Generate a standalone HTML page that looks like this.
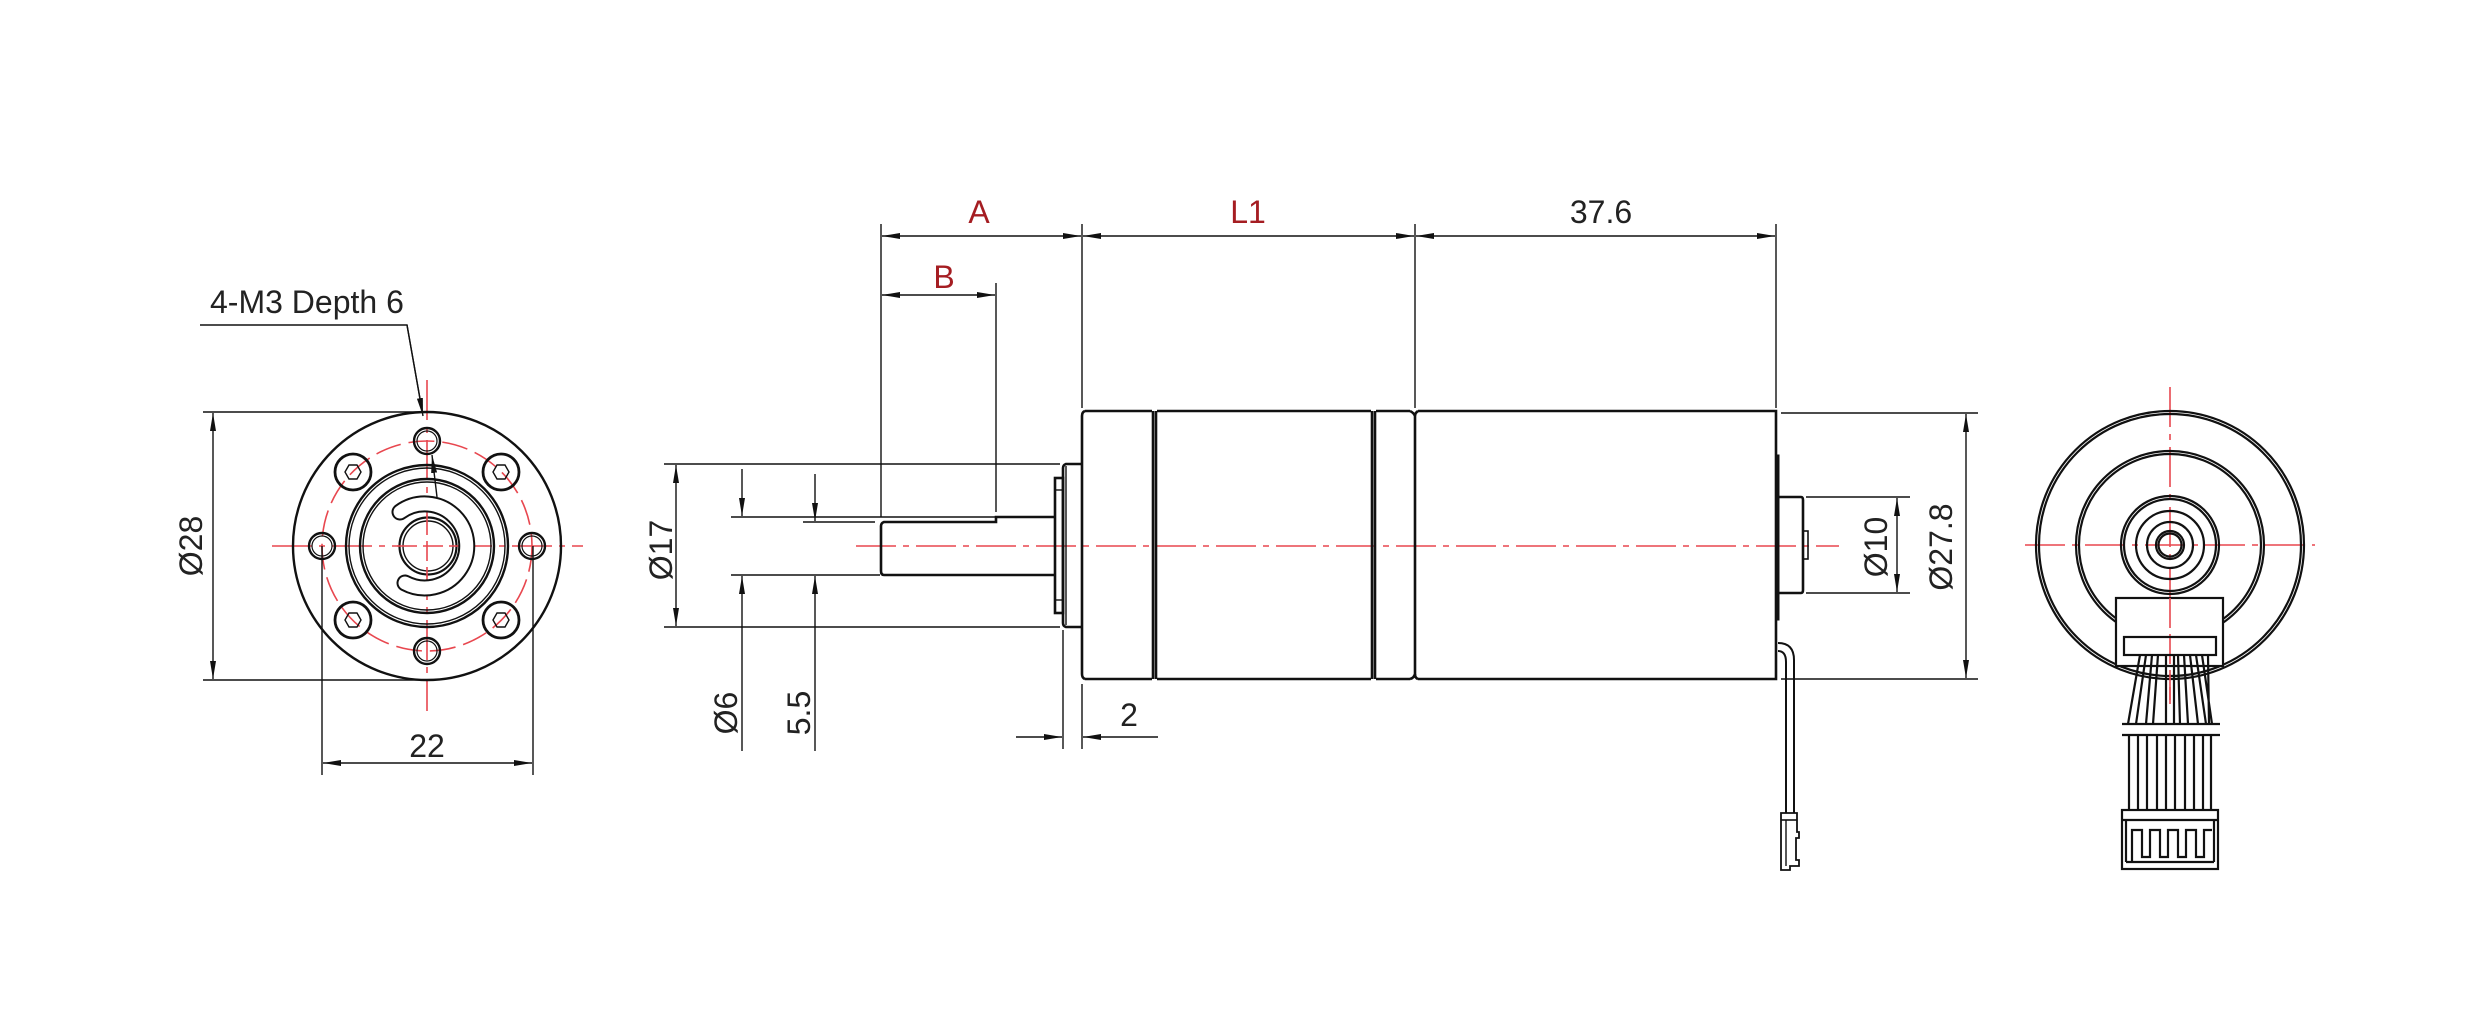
<!DOCTYPE html>
<html><head><meta charset="utf-8"><style>
html,body{margin:0;padding:0;background:#fff;}
svg{display:block;}
text{font-family:"Liberation Sans",sans-serif;}
</style></head><body>
<svg width="2481" height="1015" viewBox="0 0 2481 1015" xmlns="http://www.w3.org/2000/svg">
<defs>
<marker id="ar" viewBox="0 0 18 8" refX="18" refY="4" markerWidth="18" markerHeight="8" markerUnits="userSpaceOnUse" orient="auto-start-reverse">
<path d="M0,1 L18,4 L0,7 Z" fill="#111"/>
</marker>
</defs>
<g fill="none" stroke="#e8474f" stroke-width="1.6" stroke-dasharray="40,7,6,7">
<line x1="272" y1="546" x2="583" y2="546"/>
<line x1="427" y1="380" x2="427" y2="711"/>
<line x1="856" y1="546" x2="1839" y2="546"/>
<line x1="2025" y1="545" x2="2315" y2="545"/>
<line x1="2170" y1="387" x2="2170" y2="704"/>
</g>
<circle cx="427" cy="546" r="105" fill="none" stroke="#e8474f" stroke-width="1.6" stroke-dasharray="26,8"/>

<g fill="none" stroke="#111" stroke-width="2.4">
<circle cx="427" cy="546" r="134"/>
<circle cx="427" cy="546" r="81"/><circle cx="427" cy="546" r="78" stroke-width="1.4"/>
<circle cx="427" cy="546" r="67"/><circle cx="427" cy="546" r="64" stroke-width="1.4"/>
<circle cx="322" cy="546" r="13"/><circle cx="322" cy="546" r="10" stroke-width="1.2"/>
<circle cx="532" cy="546" r="13"/><circle cx="532" cy="546" r="10" stroke-width="1.2"/>
<circle cx="427" cy="441" r="13"/><circle cx="427" cy="441" r="10" stroke-width="1.2"/>
<circle cx="427" cy="651" r="13"/><circle cx="427" cy="651" r="10" stroke-width="1.2"/>
<circle cx="353" cy="472" r="18" stroke-width="2.8"/><path d="M345,472 L349,465 L357,465 L361,472 L357,479 L349,479 Z" stroke-width="1.4"/>
<circle cx="501" cy="472" r="18" stroke-width="2.8"/><path d="M493,472 L497,465 L505,465 L509,472 L505,479 L497,479 Z" stroke-width="1.4"/>
<circle cx="353" cy="620" r="18" stroke-width="2.8"/><path d="M345,620 L349,613 L357,613 L361,620 L357,627 L349,627 Z" stroke-width="1.4"/>
<circle cx="501" cy="620" r="18" stroke-width="2.8"/><path d="M493,620 L497,613 L505,613 L509,620 L505,627 L497,627 Z" stroke-width="1.4"/>
</g>
<path d="M400,512 A42,42 0 1 1 405,583" fill="none" stroke="#111" stroke-width="17" stroke-linecap="round"/>
<path d="M400,512 A42,42 0 1 1 405,583" fill="none" stroke="#fff" stroke-width="13" stroke-linecap="round"/>
<circle cx="428" cy="546" r="28.5" fill="#fff" stroke="#111" stroke-width="2.2"/>
<circle cx="428" cy="546" r="25" fill="none" stroke="#111" stroke-width="1.4"/>
<line x1="427" y1="515" x2="427" y2="577" stroke="#e8474f" stroke-width="1.6" stroke-dasharray="20,6"/>
<line x1="397" y1="546" x2="458" y2="546" stroke="#e8474f" stroke-width="1.6" stroke-dasharray="20,6"/>
<g stroke="#111" stroke-width="1.4" fill="none">
<line x1="203" y1="412" x2="427" y2="412"/>
<line x1="203" y1="680" x2="427" y2="680"/>
<line x1="213" y1="413" x2="213" y2="679" marker-start="url(#ar)" marker-end="url(#ar)"/>
<line x1="322" y1="546" x2="322" y2="775"/>
<line x1="533" y1="546" x2="533" y2="775"/>
<line x1="323" y1="763" x2="532" y2="763" marker-start="url(#ar)" marker-end="url(#ar)"/>
<polyline points="200,325 407,325 422,410"/>
<line x1="407" y1="325" x2="423" y2="416" marker-end="url(#ar)"/>
<line x1="437" y1="497" x2="432" y2="455" marker-end="url(#ar)"/>
</g>
<text x="210" y="313" font-size="32" fill="#222">4-M3 Depth 6</text>
<text x="427" y="757" font-size="32" fill="#222" text-anchor="middle">22</text>
<text transform="translate(202,546) rotate(-90)" font-size="32" fill="#222" text-anchor="middle">Ø28</text>

<g fill="none" stroke="#111" stroke-width="2.6">
<path d="M1085,411 L1152,411 M1157,411 L1371,411 M1376,411 L1410,411 M1418,411 L1776,411 L1776,679 L1418,679 M1410,679 L1376,679 M1371,679 L1157,679 M1152,679 L1085,679"/>
<path d="M1085,411 Q1082,412 1082,416 L1082,674 Q1082,678 1085,679"/>
<line x1="1153" y1="411" x2="1153" y2="679"/><line x1="1156" y1="411" x2="1156" y2="679"/>
<line x1="1372" y1="411" x2="1372" y2="679"/><line x1="1375" y1="411" x2="1375" y2="679"/>
<path d="M1410,411 Q1414,413 1415,416 L1415,674 Q1414,678 1410,679"/>
<path d="M1418,411 Q1415,413 1415,416 M1415,674 Q1415,678 1418,679"/>
<path d="M1082,464 L1066,464 Q1063,465 1063,468 L1063,623 Q1063,626 1066,627 L1082,627"/>
<line x1="1066" y1="466" x2="1066" y2="625" stroke-width="1.4"/>
<rect x="1055" y="478" width="8" height="135"/>
<line x1="1055" y1="490" x2="1063" y2="490" stroke-width="1.4"/><line x1="1055" y1="600" x2="1063" y2="600" stroke-width="1.4"/>
<path d="M1055,517 L996,517 L996,522 L884,522 Q881,523 881,526 L881,571 Q881,575 884,575 L1055,575"/>
<rect x="1776" y="455" width="3" height="165" fill="#111" stroke-width="1"/>
<path d="M1779,497 L1801,497 Q1803,497 1803,500 L1803,590 Q1803,593 1801,593 L1779,593"/>
<rect x="1803" y="531" width="5" height="28" stroke-width="1.6"/>
<path d="M1778,643 Q1794,643 1794,660 L1794,813" stroke-width="2"/>
<path d="M1778,651 Q1786,651 1786,662 L1786,813" stroke-width="2"/>
<path d="M1781,813 L1797,813 L1797,832 L1799,832 L1799,838 L1796,838 L1796,860 L1799,860 L1799,866 L1790,866 L1790,870 L1781,870 Z" stroke-width="1.8"/>
<line x1="1781" y1="820" x2="1797" y2="820" stroke-width="1.6"/>
<line x1="1786" y1="820" x2="1786" y2="866" stroke-width="1.4"/>
</g>
<g stroke="#111" stroke-width="1.4" fill="none">
<line x1="881" y1="224" x2="881" y2="517"/>
<line x1="996" y1="283" x2="996" y2="512"/>
<line x1="1082" y1="224" x2="1082" y2="408"/>
<line x1="1415" y1="224" x2="1415" y2="408"/>
<line x1="1776" y1="224" x2="1776" y2="408"/>
<line x1="882" y1="236" x2="1081" y2="236" marker-start="url(#ar)" marker-end="url(#ar)"/>
<line x1="1083" y1="236" x2="1414" y2="236" marker-start="url(#ar)" marker-end="url(#ar)"/>
<line x1="1416" y1="236" x2="1775" y2="236" marker-start="url(#ar)" marker-end="url(#ar)"/>
<line x1="882" y1="295" x2="995" y2="295" marker-start="url(#ar)" marker-end="url(#ar)"/>
<line x1="664" y1="464" x2="1060" y2="464"/>
<line x1="664" y1="627" x2="1060" y2="627"/>
<line x1="676" y1="465" x2="676" y2="626" marker-start="url(#ar)" marker-end="url(#ar)"/>
<line x1="731" y1="517" x2="996" y2="517"/>
<line x1="731" y1="575" x2="880" y2="575"/>
<line x1="742" y1="469" x2="742" y2="516" marker-end="url(#ar)"/>
<line x1="742" y1="751" x2="742" y2="576" marker-end="url(#ar)"/>
<line x1="803" y1="522" x2="875" y2="522"/>
<line x1="815" y1="474" x2="815" y2="521" marker-end="url(#ar)"/>
<line x1="815" y1="751" x2="815" y2="576" marker-end="url(#ar)"/>
<line x1="1063" y1="630" x2="1063" y2="749"/>
<line x1="1082" y1="684" x2="1082" y2="749"/>
<line x1="1016" y1="737" x2="1062" y2="737" marker-end="url(#ar)"/>
<line x1="1158" y1="737" x2="1083" y2="737" marker-end="url(#ar)"/>
<line x1="1806" y1="497" x2="1910" y2="497"/>
<line x1="1806" y1="593" x2="1910" y2="593"/>
<line x1="1897" y1="498" x2="1897" y2="592" marker-start="url(#ar)" marker-end="url(#ar)"/>
<line x1="1781" y1="413" x2="1978" y2="413"/>
<line x1="1781" y1="679" x2="1978" y2="679"/>
<line x1="1966" y1="414" x2="1966" y2="678" marker-start="url(#ar)" marker-end="url(#ar)"/>
</g>
<text x="979" y="223" font-size="32" fill="#a51d22" text-anchor="middle">A</text>
<text x="1248" y="223" font-size="32" fill="#a51d22" text-anchor="middle">L1</text>
<text x="944" y="288" font-size="32" fill="#a51d22" text-anchor="middle">B</text>
<text x="1601" y="223" font-size="32" fill="#222" text-anchor="middle">37.6</text>
<text x="1129" y="726" font-size="32" fill="#222" text-anchor="middle">2</text>
<text transform="translate(672,550) rotate(-90)" font-size="32" fill="#222" text-anchor="middle">Ø17</text>
<text transform="translate(737,713) rotate(-90)" font-size="32" fill="#222" text-anchor="middle">Ø6</text>
<text transform="translate(810,713) rotate(-90)" font-size="32" fill="#222" text-anchor="middle">5.5</text>
<text transform="translate(1887,547) rotate(-90)" font-size="32" fill="#222" text-anchor="middle">Ø10</text>
<text transform="translate(1952,547) rotate(-90)" font-size="32" fill="#222" text-anchor="middle">Ø27.8</text>

<g fill="none" stroke="#111" stroke-width="2.2">
<circle cx="2170" cy="545" r="134"/><circle cx="2170" cy="545" r="131"/>
<circle cx="2170" cy="545" r="94"/><circle cx="2170" cy="545" r="91"/>
<circle cx="2170" cy="545" r="49"/><circle cx="2170" cy="545" r="46"/>
<circle cx="2170" cy="545" r="34"/><circle cx="2170" cy="545" r="23"/>
<circle cx="2170" cy="545" r="14"/><circle cx="2170" cy="545" r="11.5"/>
</g>
<rect x="2116" y="598" width="107" height="68" fill="#fff" stroke="#111" stroke-width="2.2"/>
<line x1="2170" y1="598" x2="2170" y2="704" stroke="#e8474f" stroke-width="1.6" stroke-dasharray="30,6"/>
<g fill="none" stroke="#111" stroke-width="2.2">
<rect x="2124" y="637" width="92" height="18"/>
<path d="M2128,724 L2140,655 M2136,724 L2146,655 M2146,724 L2152,655 M2153,724 L2158,655 M2166,724 L2166,655 M2174,724 L2174,655 M2180,724 L2178,655 M2188,724 L2184,655 M2198,724 L2190,655 M2206,724 L2196,655 M2212,724 L2202,655 M2209,724 L2208,655"/>
<line x1="2122" y1="724" x2="2220" y2="724"/>
<line x1="2122" y1="735" x2="2220" y2="735"/>
<path d="M2129,735 V810 M2138,735 V810 M2147,735 V810 M2157,735 V810 M2166,735 V810 M2175,735 V810 M2185,735 V810 M2194,735 V810 M2203,735 V810 M2211,735 V810"/>
<rect x="2122" y="810" width="96" height="59"/>
<line x1="2122" y1="820" x2="2218" y2="820"/>
<path d="M2126,820 V862 M2214,820 V862 M2126,862 H2214 M2132,862 V830 H2142 V857 H2150 V830 H2160 V857 H2168 V830 H2178 V857 H2186 V830 H2196 V857 H2204 V830 H2212"/>
</g>
</svg>
</body></html>
